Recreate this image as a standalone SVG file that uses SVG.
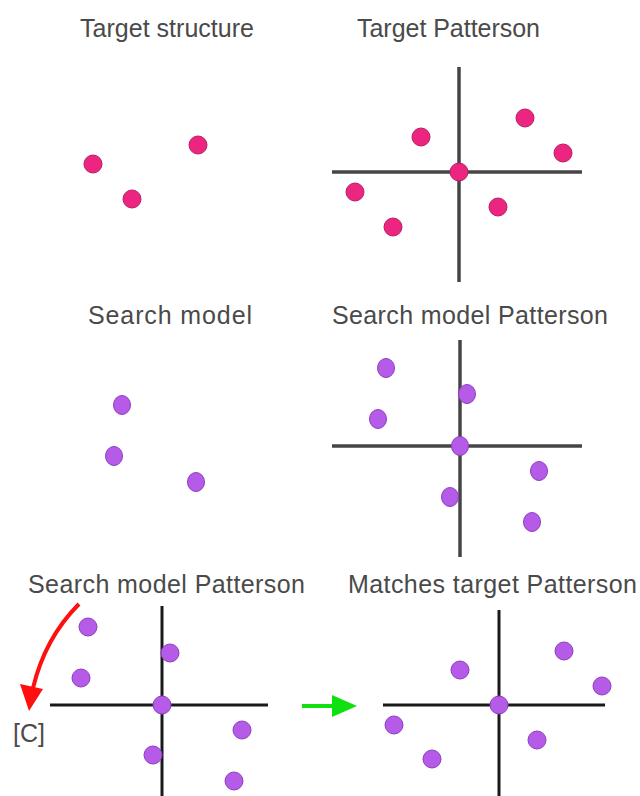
<svg xmlns="http://www.w3.org/2000/svg" width="640" height="796" viewBox="0 0 640 796">
<style>
.t{font-family:"Liberation Sans",Arial,sans-serif;font-size:25px;fill:#4a4a4a}
.pk{fill:#ec2680;stroke:#b81e60;stroke-width:1}
.pu{fill:#b65ae8;stroke:#8c3fbf;stroke-width:1}
.ax{stroke:#454545;stroke-width:3.5;fill:none}
.axb{stroke:#1a1a1a;stroke-width:3;fill:none}
</style>
<rect width="640" height="796" fill="#fff"/>

<g id="target-structure">
<text class="t" x="80" y="37" textLength="174" lengthAdjust="spacing">Target structure</text>
<circle class="pk" cx="93" cy="164" r="9"/>
<circle class="pk" cx="132" cy="199" r="9"/>
<circle class="pk" cx="198" cy="145" r="9"/>
</g>

<g id="target-patterson">
<text class="t" x="357" y="37" textLength="183" lengthAdjust="spacing">Target Patterson</text>
<line class="ax" x1="459" y1="67" x2="459" y2="282"/>
<line class="ax" x1="332" y1="172" x2="582" y2="172"/>
<circle class="pk" cx="459" cy="172" r="9"/>
<circle class="pk" cx="421" cy="137" r="9"/>
<circle class="pk" cx="525" cy="118" r="9"/>
<circle class="pk" cx="563" cy="153" r="9"/>
<circle class="pk" cx="355" cy="192" r="9"/>
<circle class="pk" cx="393" cy="227" r="9"/>
<circle class="pk" cx="498" cy="207" r="9"/>
</g>

<g id="search-model">
<text class="t" x="88" y="324" textLength="164" lengthAdjust="spacing">Search model</text>
<ellipse class="pu" cx="122" cy="405" rx="8.5" ry="9.5"/>
<ellipse class="pu" cx="114" cy="456" rx="8.5" ry="9.5"/>
<ellipse class="pu" cx="196" cy="482" rx="8.5" ry="9.5"/>
</g>

<g id="search-model-patterson">
<text class="t" x="332" y="324" textLength="276" lengthAdjust="spacing">Search model Patterson</text>
<line class="ax" x1="460" y1="340" x2="460" y2="557"/>
<line class="ax" x1="332" y1="446" x2="582" y2="446"/>
<ellipse class="pu" cx="460" cy="446" rx="8.5" ry="9.5"/>
<ellipse class="pu" cx="386" cy="368" rx="8.5" ry="9.5"/>
<ellipse class="pu" cx="467" cy="394" rx="8.5" ry="9.5"/>
<ellipse class="pu" cx="378" cy="419" rx="8.5" ry="9.5"/>
<ellipse class="pu" cx="539" cy="471" rx="8.5" ry="9.5"/>
<ellipse class="pu" cx="450" cy="497" rx="8.5" ry="9.5"/>
<ellipse class="pu" cx="532" cy="522" rx="8.5" ry="9.5"/>
</g>

<g id="rotated-search-patterson">
<text class="t" x="28" y="593" textLength="277" lengthAdjust="spacing">Search model Patterson</text>
<line class="axb" x1="162" y1="606" x2="162" y2="796"/>
<line class="axb" x1="50" y1="705" x2="268" y2="705"/>
<circle class="pu" cx="162" cy="705" r="9"/>
<circle class="pu" cx="88" cy="627" r="9"/>
<circle class="pu" cx="170" cy="653" r="9"/>
<circle class="pu" cx="81" cy="678" r="9"/>
<circle class="pu" cx="242" cy="730" r="9"/>
<circle class="pu" cx="153" cy="755" r="9"/>
<circle class="pu" cx="234" cy="781" r="9"/>
<text class="t" x="13" y="742" font-size="22" textLength="32" lengthAdjust="spacing">[C]</text>
</g>

<g id="matches-target-patterson">
<text class="t" x="348" y="593" textLength="289" lengthAdjust="spacing">Matches target Patterson</text>
<line class="axb" x1="499" y1="610" x2="499" y2="796"/>
<line class="axb" x1="383" y1="705" x2="605" y2="705"/>
<circle class="pu" cx="499" cy="705" r="9"/>
<circle class="pu" cx="460" cy="670" r="9"/>
<circle class="pu" cx="564" cy="651" r="9"/>
<circle class="pu" cx="602" cy="686" r="9"/>
<circle class="pu" cx="394" cy="725" r="9"/>
<circle class="pu" cx="432" cy="759" r="9"/>
<circle class="pu" cx="537" cy="740" r="9"/>
</g>

<g id="connectors">
<path d="M79,604 Q45,638 33,688" fill="none" stroke="#ff1010" stroke-width="4"/>
<polygon points="20,684 43,689 29,711" fill="#ff1010"/>
<line x1="302" y1="706" x2="336" y2="706" stroke="#10e010" stroke-width="4"/>
<polygon points="332,695 357,706 332,717" fill="#10e010"/>
</g>
</svg>
